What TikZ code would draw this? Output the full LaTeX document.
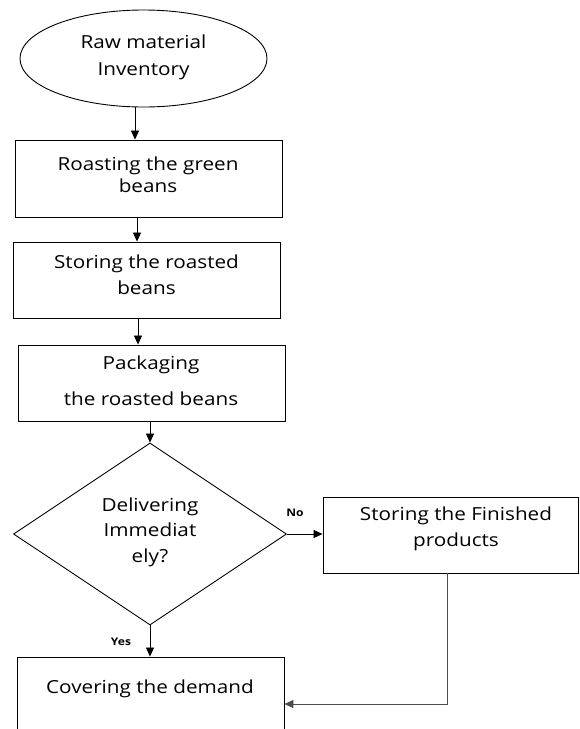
\documentclass[tikz,border=0pt]{standalone}
\usepackage{fontspec}
\setmainfont[FakeStretch=1.15]{Open Sans}
\usetikzlibrary{shapes.geometric,arrows.meta}
\begin{document}
\begin{tikzpicture}[x=1pt,y=-1pt,
 shp/.style={draw=black, line width=0.9pt, inner sep=0pt},
 box/.style={shp, rectangle},
 lbl/.style={align=center, inner sep=0pt},
 yn/.style={font=\fontsize{10.5}{12}\selectfont\bfseries, inner sep=0pt},
 arr/.style={-{Triangle[length=9pt,width=8pt]}, line width=0.8pt}]
\useasboundingbox (0,0) rectangle (579,729);
\fill[white] (0,0) rectangle (579,729);
% shapes
\node[shp, ellipse, minimum width=247pt, minimum height=97pt] (ell) at (143.5,58.5) {};
\node[box, minimum width=267pt, minimum height=77pt] (b1) at (148.5,178.5) {};
\node[box, minimum width=267pt, minimum height=76pt] (b2) at (146.5,280) {};
\node[box, minimum width=267pt, minimum height=76pt] (b3) at (151.5,383) {};
\node[shp, diamond, minimum width=273pt, minimum height=182pt] (dia) at (150,534) {};
\node[box, minimum width=255pt, minimum height=76pt] (b4) at (450.5,535) {};
\node[box, minimum width=267pt, minimum height=103pt] (b5) at (150.5,708.5) {};
% texts
\node[lbl, font=\fontsize{18}{27}\selectfont] (t0) at (143.5,57) {Raw material\\Inventory};
\node[lbl, font=\fontsize{18}{22}\selectfont] (t1) at (148,175) {Roasting the green\\beans};
\node[lbl, font=\fontsize{18}{26}\selectfont] (t2) at (146.5,275) {Storing the roasted\\beans};
\node[lbl, font=\fontsize{18}{36}\selectfont] (t3) at (151,381) {Packaging\\the roasted beans};
\node[lbl, font=\fontsize{18}{25.5}\selectfont] (td) at (150,532) {Delivering\\Immediat\\ely?};
\node[lbl, font=\fontsize{18}{26}\selectfont] (t4) at (456,529) {Storing the Finished\\products};
\node[lbl, font=\fontsize{18}{20}\selectfont] (t5) at (150,689) {Covering the demand};
\node[yn] (no) at (295,513) {No};
\node[yn] (yes) at (121,642) {Yes};
% connectors
\draw[arr] ([xshift=-8.5pt]ell.south) -- ([xshift=-13.5pt]b1.north);
\draw[arr] ([xshift=-11.5pt]b1.south) -- ([xshift=-9.5pt]b2.north);
\draw[arr] ([xshift=-8.5pt]b2.south) -- ([xshift=-13.5pt]b3.north);
\draw[arr] ([xshift=-1.5pt]b3.south) -- (dia.north);
\draw[arr] (dia.east) -- (dia.east -| b4.west);
\draw[arr] (dia.south) -- (dia.south |- b5.north);
\draw[arr, draw=black!70] ([xshift=-3.5pt]b4.south) |- ([yshift=4.5pt]b5.east);
\end{tikzpicture}
\end{document}
